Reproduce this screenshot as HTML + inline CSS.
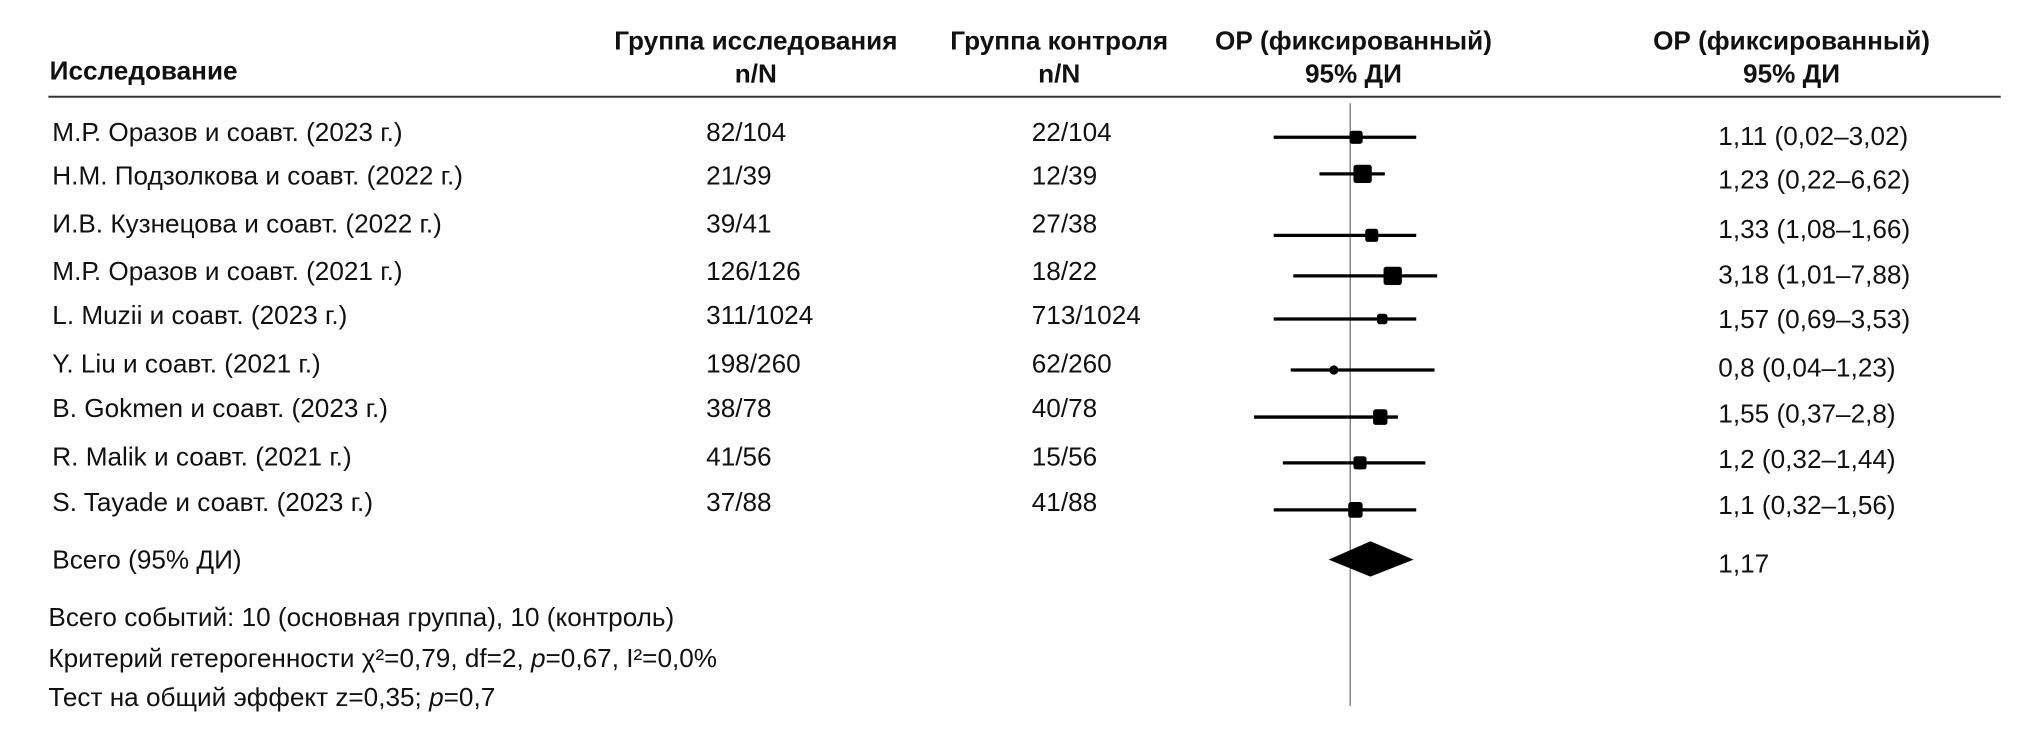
<!DOCTYPE html>
<html><head><meta charset="utf-8"><style>
html,body{margin:0;padding:0;background:#fff;}
svg{display:block;}
text{font-family:"Liberation Sans Narrow","Liberation Sans",sans-serif;font-size:20px;fill:#111;}
.b{font-weight:bold;}
</style></head><body>
<svg width="2040" height="740" viewBox="0 0 1560 566" preserveAspectRatio="none" xmlns="http://www.w3.org/2000/svg">
<g class="b">
<text x="38" y="61" class="b">Исследование</text>
<text x="578" y="38" text-anchor="middle" class="b">Группа исследования</text>
<text x="578" y="63" text-anchor="middle" class="b">n/N</text>
<text x="810" y="38" text-anchor="middle" class="b">Группа контроля</text>
<text x="810" y="63" text-anchor="middle" class="b">n/N</text>
<text x="1035" y="38" text-anchor="middle" class="b">ОР (фиксированный)</text>
<text x="1035" y="63" text-anchor="middle" class="b">95% ДИ</text>
<text x="1370" y="38" text-anchor="middle" class="b">ОР (фиксированный)</text>
<text x="1370" y="63" text-anchor="middle" class="b">95% ДИ</text>
</g>
<line x1="37" y1="74" x2="1530" y2="74" stroke="#333" stroke-width="1.5"/>
<line x1="1032.5" y1="79" x2="1032.5" y2="540" stroke="#555" stroke-width="0.8"/>
<g>
<text x="40" y="108">М.Р. Оразов и соавт. (2023 г.)</text>
<text x="40" y="141">Н.М. Подзолкова и соавт. (2022 г.)</text>
<text x="40" y="178">И.В. Кузнецова и соавт. (2022 г.)</text>
<text x="40" y="214">М.Р. Оразов и соавт. (2021 г.)</text>
<text x="40" y="248">L. Muzii и соавт. (2023 г.)</text>
<text x="40" y="285">Y. Liu и соавт. (2021 г.)</text>
<text x="40" y="319">B. Gokmen и соавт. (2023 г.)</text>
<text x="40" y="356">R. Malik и соавт. (2021 г.)</text>
<text x="40" y="391">S. Tayade и соавт. (2023 г.)</text>
<text x="40" y="435">Всего (95% ДИ)</text>

<text x="540" y="108">82/104</text>
<text x="540" y="141">21/39</text>
<text x="540" y="178">39/41</text>
<text x="540" y="214">126/126</text>
<text x="540" y="248">311/1024</text>
<text x="540" y="285">198/260</text>
<text x="540" y="319">38/78</text>
<text x="540" y="356">41/56</text>
<text x="540" y="391">37/88</text>

<text x="789" y="108">22/104</text>
<text x="789" y="141">12/39</text>
<text x="789" y="178">27/38</text>
<text x="789" y="214">18/22</text>
<text x="789" y="248">713/1024</text>
<text x="789" y="285">62/260</text>
<text x="789" y="319">40/78</text>
<text x="789" y="356">15/56</text>
<text x="789" y="391">41/88</text>

<text x="1314" y="111">1,11 (0,02–3,02)</text>
<text x="1314" y="144">1,23 (0,22–6,62)</text>
<text x="1314" y="182">1,33 (1,08–1,66)</text>
<text x="1314" y="217">3,18 (1,01–7,88)</text>
<text x="1314" y="251">1,57 (0,69–3,53)</text>
<text x="1314" y="288">0,8 (0,04–1,23)</text>
<text x="1314" y="323">1,55 (0,37–2,8)</text>
<text x="1314" y="358">1,2 (0,32–1,44)</text>
<text x="1314" y="393">1,1 (0,32–1,56)</text>
<text x="1314" y="438">1,17</text>

<text x="37" y="479">Всего событий: 10 (основная группа), 10 (контроль)</text>
<text x="37" y="510">Критерий гетерогенности χ²=0,79, df=2, <tspan font-style="italic">p</tspan>=0,67, I²=0,0%</text>
<text x="37" y="540">Тест на общий эффект z=0,35; <tspan font-style="italic">p</tspan>=0,7</text>
</g>
<g transform="translate(-5,0)">
<g stroke="#000" stroke-width="2.5">
<line x1="979" y1="105" x2="1088" y2="105"/>
<line x1="1014" y1="133" x2="1064" y2="133"/>
<line x1="979" y1="180" x2="1088" y2="180"/>
<line x1="994" y1="211" x2="1104" y2="211"/>
<line x1="979" y1="244" x2="1088" y2="244"/>
<line x1="992" y1="283" x2="1102" y2="283"/>
<line x1="964" y1="319" x2="1074" y2="319"/>
<line x1="986" y1="354" x2="1095" y2="354"/>
<line x1="979" y1="390" x2="1088" y2="390"/>
</g>
<g fill="#000">
<rect x="1037" y="100" width="10" height="10" rx="2"/>
<rect x="1040" y="126" width="14" height="14" rx="2"/>
<rect x="1049" y="175" width="10" height="10" rx="2"/>
<rect x="1063" y="204" width="14" height="14" rx="2"/>
<rect x="1058" y="240" width="8" height="8" rx="2"/>
<circle cx="1025" cy="283" r="3.5"/>
<rect x="1055" y="313" width="11" height="12" rx="2"/>
<rect x="1040" y="349" width="10" height="10" rx="2"/>
<rect x="1036" y="384" width="11" height="12" rx="2"/>
<polygon points="1021,428 1053,414 1086,428 1053,441"/>
</g>
</g>
</svg>
</body></html>
